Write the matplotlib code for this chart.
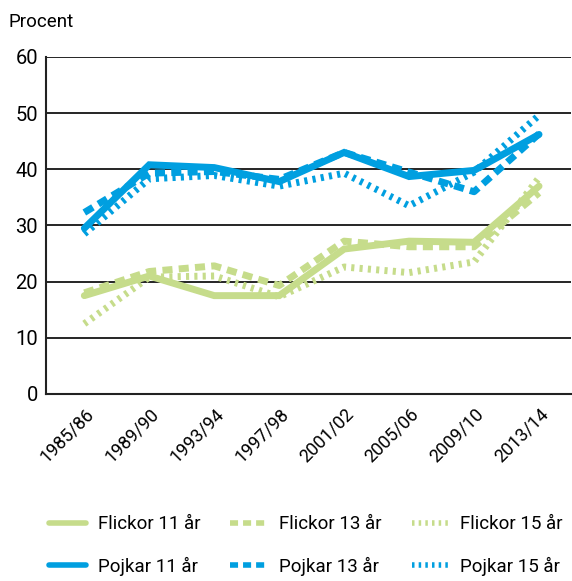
import matplotlib
matplotlib.use("Agg")
import matplotlib.pyplot as plt
from matplotlib.lines import Line2D

categories = ["1985/86", "1989/90", "1993/94", "1997/98", "2001/02", "2005/06", "2009/10", "2013/14"]
flickor_11 = [17.5, 21.0, 17.5, 17.5, 25.8, 27.2, 27.0, 37.0]
flickor_13 = [18.0, 21.8, 22.8, 19.3, 27.2, 26.2, 26.2, 35.8]
flickor_15 = [12.5, 20.8, 21.0, 17.3, 22.6, 21.6, 23.5, 38.5]
pojkar_11 = [29.5, 40.8, 40.3, 37.8, 43.0, 38.7, 39.8, 46.2]
pojkar_13 = [32.3, 39.3, 39.6, 38.2, 43.0, 39.5, 36.0, 46.3]
pojkar_15 = [28.5, 38.3, 38.9, 37.0, 39.3, 33.5, 39.5, 49.6]
yticks = [0, 10, 20, 30, 40, 50, 60]

green = "#c6dc8b"
blue = "#009fe0"

plt.rcParams["font.family"] = ["Roboto", "DejaVu Sans"]

fig = plt.figure(figsize=(5.72, 5.81), dpi=100)
ax = fig.add_axes([0.081, 0.322, 0.917, 0.580])

x = list(range(len(categories)))
lw = 5
dash = (0, (1.45, 0.9))
dot = (0, (0.45, 0.75))

series = [
    (flickor_11, green, "-", "Flickor 11 år"),
    (flickor_13, green, dash, "Flickor 13 år"),
    (flickor_15, green, dot, "Flickor 15 år"),
    (pojkar_11, blue, "-", "Pojkar 11 år"),
    (pojkar_13, blue, dash, "Pojkar 13 år"),
    (pojkar_15, blue, dot, "Pojkar 15 år"),
]
handles = {}
for vals, col, ls, lab in series:
    ax.plot(x, vals, color=col, linestyle=ls, linewidth=lw,
            solid_capstyle="round" if ls == "-" else "butt",
            dash_capstyle="butt", solid_joinstyle="miter", zorder=3)
    handles[lab] = Line2D([], [], color=col, linestyle=ls, linewidth=4,
                          solid_capstyle="round", dash_capstyle="butt")

ax.set_xlim(-0.585, 7.49)
ax.set_ylim(0, 60)
ax.set_yticks(yticks)
ax.set_yticklabels([str(t) for t in yticks], fontsize=14.5)
ax.set_xticks(x)
ax.set_xticklabels(categories, rotation=45, ha="right", rotation_mode="anchor", fontsize=13)
ax.tick_params(axis="both", length=0, pad=6)
ax.tick_params(axis="x", pad=8)
for t in yticks[1:]:
    ax.axhline(t, color="black", linewidth=1.2, zorder=1)
for s in ["top", "right"]:
    ax.spines[s].set_visible(False)
ax.spines["left"].set_linewidth(1.5)
ax.spines["bottom"].set_linewidth(1.5)
ax.spines["left"].set_color("#222222")
ax.spines["bottom"].set_color("#222222")

fig.text(0.014, 0.962, "Procent", fontsize=13.5, ha="left", va="center")

order = ["Flickor 11 år", "Pojkar 11 år", "Flickor 13 år", "Pojkar 13 år", "Flickor 15 år", "Pojkar 15 år"]
fig.legend([handles[k] for k in order], order, ncol=3, loc="center",
           bbox_to_anchor=(0.535, 0.061), frameon=False, fontsize=13.5,
           handlelength=2.0, handletextpad=0.6, columnspacing=1.6, labelspacing=1.25)

fig.savefig("out.png", dpi=100)
